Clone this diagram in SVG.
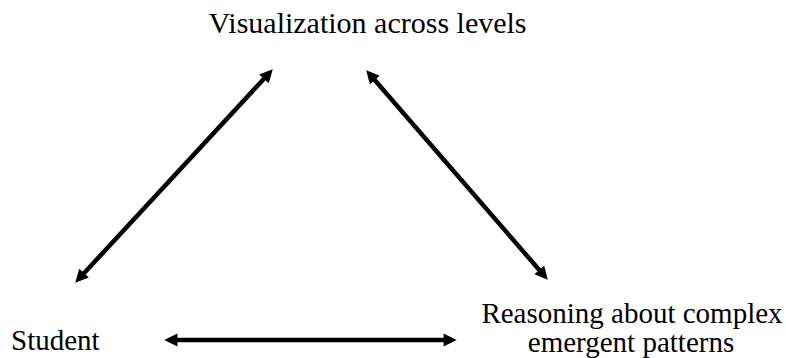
<svg xmlns="http://www.w3.org/2000/svg" width="786" height="358" viewBox="0 0 786 358">
  <style>
    .label { font-family: "Liberation Serif", "Times New Roman", serif; font-size: 29px; fill: #000; }
    .title { font-size: 30px; }
    .link { stroke: #000; stroke-width: 4.5; fill: none; marker-start: url(#head); marker-end: url(#head); }
  </style>
  <defs>
    <!-- solid triangular head, used at both ends of every link -->
    <marker id="head" viewBox="0 0 10 10" refX="6.4" refY="5" markerWidth="3.1" markerHeight="2.9" orient="auto-start-reverse" markerUnits="strokeWidth">
      <path d="M0,0 L10,5 L0,10 Z" fill="#000"/>
    </marker>
  </defs>
  <g id="node-visualization">
    <text class="label title" x="367.5" y="33" text-anchor="middle">Visualization across levels</text>
  </g>
  <g id="node-student">
    <text class="label" x="11" y="350">Student</text>
  </g>
  <g id="node-reasoning">
    <text class="label" x="632" y="323" text-anchor="middle">Reasoning about complex</text>
    <text class="label" x="631" y="352" text-anchor="middle">emergent patterns</text>
  </g>
  <g id="connectors">
    <line class="link" x1="78.4" y1="279.3" x2="269.6" y2="72.7"/>
    <line class="link" x1="369.3" y1="73.8" x2="544.7" y2="276.2"/>
    <line class="link" x1="169" y1="340" x2="452" y2="340"/>
  </g>
</svg>
